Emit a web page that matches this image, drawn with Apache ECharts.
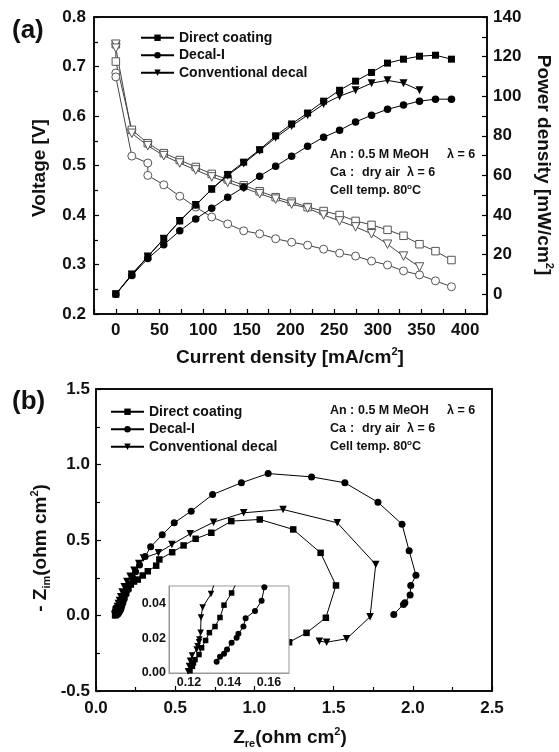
<!DOCTYPE html>
<html>
<head>
<meta charset="utf-8">
<script src="https://cdn.jsdelivr.net/npm/echarts@6/dist/echarts.min.js"></script>
<style>
html, body { margin: 0; padding: 0; background: #fff; }
#main { width: 559px; height: 752px; }
</style>
</head>
<body>
<div id="main"></div>
<script>
// ---- (a) polarization / power density ----
var currentDensity = [0, 18.3, 36.6, 54.9, 73.2, 91.5, 109.8, 128.1, 146.4, 164.7, 183, 201.3,
    219.6, 237.9, 256.2, 274.5, 292.8, 311.1, 329.4, 347.7, 366, 384.3];

var powerDirect = [0, 10, 19, 28, 37, 45, 53, 60.5, 66.7, 73, 80, 86, 91.5, 97.5, 103, 107.6, 112, 116.7, 118.7, 120.2, 120.7, 118.7];
var powerDecal  = [0, 9.5, 18, 25, 32, 38, 43.4, 49, 54, 59.6, 64.6, 69.7, 74.7, 79.3, 82.8, 87, 90.4, 93.4, 95.5, 97.5, 98.5, 98.5];
var powerConv   = [0, 10, 19, 28, 37, 45, 53, 60, 66, 72.5, 79, 85, 90.4, 96, 100, 103, 106.6, 108, 106.6, 103];

// voltage curves (two readings at OCV, Decal-I has two at the 3rd step)
var voltDirectI = [0, 0, 18.3, 36.6, 54.9, 73.2, 91.5, 109.8, 128.1, 146.4, 164.7, 183, 201.3, 219.6, 237.9, 256.2, 274.5, 292.8, 311.1, 329.4, 347.7, 366, 384.3];
var voltDirect  = [0.745, 0.71, 0.572, 0.545, 0.525, 0.511, 0.497, 0.483, 0.472, 0.46, 0.448, 0.436, 0.427, 0.416, 0.408, 0.4, 0.388, 0.38, 0.37, 0.358, 0.341, 0.327, 0.309];
var voltDecalI  = [0, 0, 18.3, 36.6, 36.6, 54.9, 73.2, 91.5, 109.8, 128.1, 146.4, 164.7, 183, 201.3, 219.6, 237.9, 256.2, 274.5, 292.8, 311.1, 329.4, 347.7, 366, 384.3];
var voltDecal   = [0.687, 0.679, 0.519, 0.505, 0.48, 0.461, 0.438, 0.416, 0.396, 0.382, 0.368, 0.362, 0.352, 0.345, 0.339, 0.331, 0.323, 0.317, 0.307, 0.299, 0.287, 0.279, 0.267, 0.255];
var voltConvI   = [0, 0, 18.3, 36.6, 54.9, 73.2, 91.5, 109.8, 128.1, 146.4, 164.7, 183, 201.3, 219.6, 237.9, 256.2, 274.5, 292.8, 311.1, 329.4, 347.7];
var voltConv    = [0.745, 0.737, 0.565, 0.54, 0.52, 0.505, 0.491, 0.477, 0.466, 0.455, 0.443, 0.432, 0.422, 0.414, 0.4, 0.388, 0.376, 0.362, 0.341, 0.317, 0.295];

// ---- (b) impedance (Zre, -Zim) ----
var zDirect = [[0.1205,0.0013],[0.1217,0.0038],[0.1222,0.0058],[0.123,0.0077],[0.125,0.0106],[0.1263,0.0145],
    [0.1283,0.0187],[0.1302,0.0232],[0.133,0.0267],[0.1355,0.0319],[0.1375,0.039],[0.1413,0.046],
    [0.147,0.06],[0.155,0.08],[0.165,0.10],[0.177,0.125],[0.19,0.15],[0.205,0.18],[0.22,0.205],[0.24,0.225],
    [0.264,0.238],[0.295,0.265],[0.327,0.293],[0.38,0.33],[0.40,0.371],[0.481,0.419],[0.553,0.464],
    [0.629,0.508],[0.728,0.548],[0.854,0.625],[1.034,0.636],[1.245,0.57],[1.418,0.415],[1.515,0.199],
    [1.451,-0.015],[1.329,-0.115],[1.219,-0.177]];
var zDecal = [[0.1338,0.0064],[0.1355,0.0093],[0.1375,0.011],[0.139,0.0135],[0.1413,0.0174],[0.1438,0.0203],
    [0.1447,0.0225],[0.1472,0.0267],[0.1483,0.0315],[0.153,0.0357],[0.1563,0.0415],[0.1577,0.0493],
    [0.163,0.065],[0.17,0.085],[0.178,0.11],[0.188,0.14],[0.20,0.17],[0.215,0.21],[0.232,0.25],[0.25,0.29],
    [0.275,0.335],[0.31,0.39],[0.345,0.455],[0.418,0.534],[0.494,0.614],[0.601,0.691],[0.736,0.801],
    [0.918,0.879],[1.087,0.94],[1.361,0.918],[1.571,0.879],[1.78,0.75],[1.932,0.605],[1.977,0.428],
    [2.02,0.266],[1.987,0.198],[1.983,0.136],[1.95,0.084],[1.941,0.073],[1.88,0.007]];
var zConv = [[0.1195,0.001],[0.12,0.004],[0.1205,0.007],[0.1215,0.01],[0.1238,0.0135],[0.1243,0.0154],
    [0.125,0.0177],[0.1252,0.0193],[0.1258,0.0232],[0.126,0.0319],[0.1268,0.0377],[0.131,0.0454],
    [0.135,0.06],[0.141,0.08],[0.148,0.10],[0.156,0.125],[0.165,0.155],[0.178,0.19],[0.195,0.225],
    [0.215,0.26],[0.24,0.30],[0.27,0.345],[0.30,0.38],[0.394,0.415],[0.479,0.47],[0.595,0.541],
    [0.742,0.618],[0.932,0.68],[1.181,0.702],[1.523,0.614],[1.766,0.338],[1.73,-0.009],[1.582,-0.154],
    [1.456,-0.177],[1.41,-0.17]];

var seriesNames = ['Direct coating', 'Decal-I', 'Conventional decal'];

var FONT = '"Liberation Sans", Arial, Helvetica, sans-serif';

function pairs(xs, ys) {
    return ys.map(function (y, i) { return [xs[i], y]; });
}

function axisBase(o) {
    var a = {
        type: 'value',
        splitLine: { show: false },
        axisLine: { show: true, onZero: false, lineStyle: { color: '#000', width: 1.5 } },
        axisTick: { show: true, inside: true, length: 5, lineStyle: { color: '#000', width: 1.2 } },
        axisLabel: { color: '#111', fontFamily: FONT, fontWeight: 'bold', fontSize: 17 }
    };
    for (var k in o) {
        if (typeof o[k] === 'object' && a[k] && !Array.isArray(o[k])) {
            for (var j in o[k]) a[k][j] = o[k][j];
        } else {
            a[k] = o[k];
        }
    }
    return a;
}

function frameAxis(o) {
    var a = { type: 'value', axisLine: { show: true, onZero: false, lineStyle: { color: '#000', width: 1.5 } },
        axisTick: { show: false }, axisLabel: { show: false }, splitLine: { show: false } };
    for (var k in o) a[k] = o[k];
    return a;
}

var symbols = [
    { symbol: 'rect', rotate: 0, size: 7 },
    { symbol: 'circle', rotate: 0, size: 7.5 },
    { symbol: 'triangle', rotate: 180, size: 8 }
];

var series = [];
// power (filled)
[powerDirect, powerDecal, powerConv].forEach(function (p, i) {
    series.push({
        name: seriesNames[i], type: 'line', xAxisIndex: 0, yAxisIndex: 1,
        data: pairs(currentDensity, p),
        symbol: symbols[i].symbol, symbolRotate: symbols[i].rotate, symbolSize: symbols[i].size,
        itemStyle: { color: '#000' }, lineStyle: { color: '#000', width: 1 }, z: 3
    });
});
// voltage (open)
[[voltDirectI, voltDirect], [voltDecalI, voltDecal], [voltConvI, voltConv]].forEach(function (v, i) {
    series.push({
        name: seriesNames[i] + ' V', type: 'line', xAxisIndex: 0, yAxisIndex: 0,
        data: pairs(v[0], v[1]),
        symbol: symbols[i].symbol, symbolRotate: symbols[i].rotate, symbolSize: symbols[i].size + 0.5,
        itemStyle: { color: '#fff', borderColor: '#555', borderWidth: 1 },
        lineStyle: { color: '#444', width: 1 }, z: 2
    });
});
// impedance main + inset
[zDirect, zDecal, zConv].forEach(function (z, i) {
    series.push({
        name: seriesNames[i], type: 'line', xAxisIndex: 2, yAxisIndex: 3,
        data: z,
        symbol: symbols[i].symbol, symbolRotate: symbols[i].rotate, symbolSize: symbols[i].size - 0.5,
        itemStyle: { color: '#000' }, lineStyle: { color: '#000', width: 1 }, z: 2
    });
    series.push({
        name: seriesNames[i] + ' inset', type: 'line', xAxisIndex: 4, yAxisIndex: 5,
        data: z,
        symbol: symbols[i].symbol, symbolRotate: symbols[i].rotate, symbolSize: symbols[i].size - 1.5,
        itemStyle: { color: '#000' }, lineStyle: { color: '#000', width: 1 }, z: 12, clip: true
    });
});

function label(text, x, y, size, extra) {
    var st = { text: text, fontFamily: FONT, fontWeight: 'bold', fontSize: size, fill: '#111',
        align: 'left', verticalAlign: 'middle' };
    var el = { type: 'text', x: x, y: y, z: 20, style: st };
    if (extra) {
        for (var k in extra) {
            if (k === 'style') { for (var j in extra.style) st[j] = extra.style[j]; }
            else el[k] = extra[k];
        }
    }
    return el;
}
function richOf(size) {
    return {
        n: { fontFamily: FONT, fontWeight: 'bold', fontSize: size, fill: '#111', lineHeight: size + 4 },
        sup: { fontFamily: FONT, fontWeight: 'bold', fontSize: Math.round(size * 0.6), fill: '#111', verticalAlign: 'top', lineHeight: size + 4 },
        sub: { fontFamily: FONT, fontWeight: 'bold', fontSize: Math.round(size * 0.6), fill: '#111', verticalAlign: 'bottom', lineHeight: size + 4 }
    };
}

var annot = [];
function condText(y0) {
    var rows = [
        [['An', 330], [':', 350], ['0.5 M MeOH', 358], ['\u03bb = 6', 447]],
        [['Ca', 330], [':', 350], ['dry air', 362], ['\u03bb = 6', 407]]
    ];
    rows.forEach(function (r, ri) {
        r.forEach(function (c) { annot.push(label(c[0], c[1], y0 + ri * 17.5, 12.5)); });
    });
    annot.push(label('', 330, y0 + 36, 12.5,
        { style: { text: '{n|Cell temp. 80}{sup|o}{n|C}', rich: richOf(12.5) } }));
}
condText(155);
condText(411);

var legendText = { fontFamily: FONT, fontWeight: 'bold', fontSize: 14, color: '#111', lineHeight: 17.5 };

var option = {
    backgroundColor: '#fff',
    animation: false,
    grid: [
        { left: 94, top: 17, width: 393, height: 297, show: true, borderColor: '#000', borderWidth: 1.5 },
        { left: 96, top: 389, width: 396, height: 302, show: true, borderColor: '#000', borderWidth: 1.5 },
        { left: 169, top: 586, width: 120, height: 87, show: true, borderColor: '#999', borderWidth: 1,
          backgroundColor: '#fff', z: 10 }
    ],
    xAxis: [
        axisBase({ gridIndex: 0, min: -25, max: 425, interval: 25,
            axisLabel: { margin: 8, formatter: function (v) { return (v >= 0 && v <= 400 && v % 50 === 0) ? String(v) : ''; } } }),
        frameAxis({ gridIndex: 0, position: 'top', min: -25, max: 425 }),
        axisBase({ gridIndex: 1, min: 0, max: 2.5, interval: 0.5,
            minorTick: { show: true, splitNumber: 2, length: 4, lineStyle: { color: '#000', width: 1.2 } },
            axisLabel: { margin: 9, formatter: function (v) { return v.toFixed(1); } } }),
        frameAxis({ gridIndex: 1, position: 'top', min: 0, max: 2.5 }),
        { type: 'value', gridIndex: 2, min: 0.11, max: 0.17, interval: 0.01, z: 11,
          splitLine: { show: false },
          axisLine: { show: true, onZero: false, lineStyle: { color: '#999', width: 1 } },
          axisTick: { show: false },
          axisLabel: { color: '#111', fontFamily: FONT, fontWeight: 'bold', fontSize: 12.5, margin: 3,
              formatter: function (v) { var c = Math.round(v * 100); return (c === 12 || c === 14 || c === 16) ? v.toFixed(2) : ''; } } }
    ],
    yAxis: [
        axisBase({ gridIndex: 0, min: 0.2, max: 0.8, interval: 0.1,
            minorTick: { show: true, splitNumber: 2, length: 4, lineStyle: { color: '#000', width: 1.2 } },
            axisLabel: { margin: 8, formatter: function (v) { return v.toFixed(1); } } }),
        axisBase({ gridIndex: 0, position: 'right', min: -10, max: 140, interval: 10,
            axisLabel: { margin: 6, formatter: function (v) { return (v >= 0 && v % 20 === 0) ? String(v) : ''; } } }),
        frameAxis({ gridIndex: 1, position: 'right', min: -0.5, max: 1.5 }),
        axisBase({ gridIndex: 1, min: -0.5, max: 1.5, interval: 0.5,
            minorTick: { show: true, splitNumber: 2, length: 4, lineStyle: { color: '#000', width: 1.2 } },
            axisLabel: { margin: 6, formatter: function (v) { return v.toFixed(1); } } }),
        frameAxis({ gridIndex: 0, position: 'left', min: 0.2, max: 0.8, show: false }),
        { type: 'value', gridIndex: 2, min: 0, max: 0.05, interval: 0.01, z: 11,
          splitLine: { show: false },
          axisLine: { show: true, onZero: false, lineStyle: { color: '#999', width: 1 } },
          axisTick: { show: false },
          axisLabel: { color: '#111', fontFamily: FONT, fontWeight: 'bold', fontSize: 12.5, margin: 3,
              formatter: function (v) { var c = Math.round(v * 100); return (c % 2 === 0 && c < 5) ? v.toFixed(2) : ''; } } }
    ],
    legend: [
        { data: seriesNames, orient: 'vertical', left: 140, top: 29, padding: 0, itemWidth: 33, itemHeight: 8, itemGap: 0,
          selectedMode: false, textStyle: legendText },
        { data: seriesNames, orient: 'vertical', left: 110, top: 403, padding: 0, itemWidth: 33, itemHeight: 8, itemGap: 0,
          selectedMode: false, textStyle: legendText }
    ],
    series: series,
    graphic: [
        label('(a)', 12, 31, 26),
        label('(b)', 12, 402, 26),
        label('Voltage [V]', 40, 168, 19, { rotation: Math.PI / 2, style: { align: 'center' } }),
        label('', 543, 165, 19, { rotation: -Math.PI / 2,
            style: { align: 'center', text: '{n|Power density [mW/cm}{sup|2}{n|]}', rich: richOf(19) } }),
        label('', 290, 358, 19, { style: { align: 'center', text: '{n|Current density [mA/cm}{sup|2}{n|]}', rich: richOf(19) } }),
        label('', 41, 548, 19, { rotation: Math.PI / 2,
            style: { align: 'center', text: '{n|- Z}{sub|im}{n|(ohm cm}{sup|2}{n|)}', rich: richOf(19) } }),
        label('', 290, 738, 19, { style: { align: 'center', text: '{n|Z}{sub|re}{n|(ohm cm}{sup|2}{n|)}', rich: richOf(19) } })
    ].concat(annot)
};

var chart = echarts.init(document.getElementById('main'), null, { renderer: 'canvas' });
chart.setOption(option);
</script>
</body>
</html>
